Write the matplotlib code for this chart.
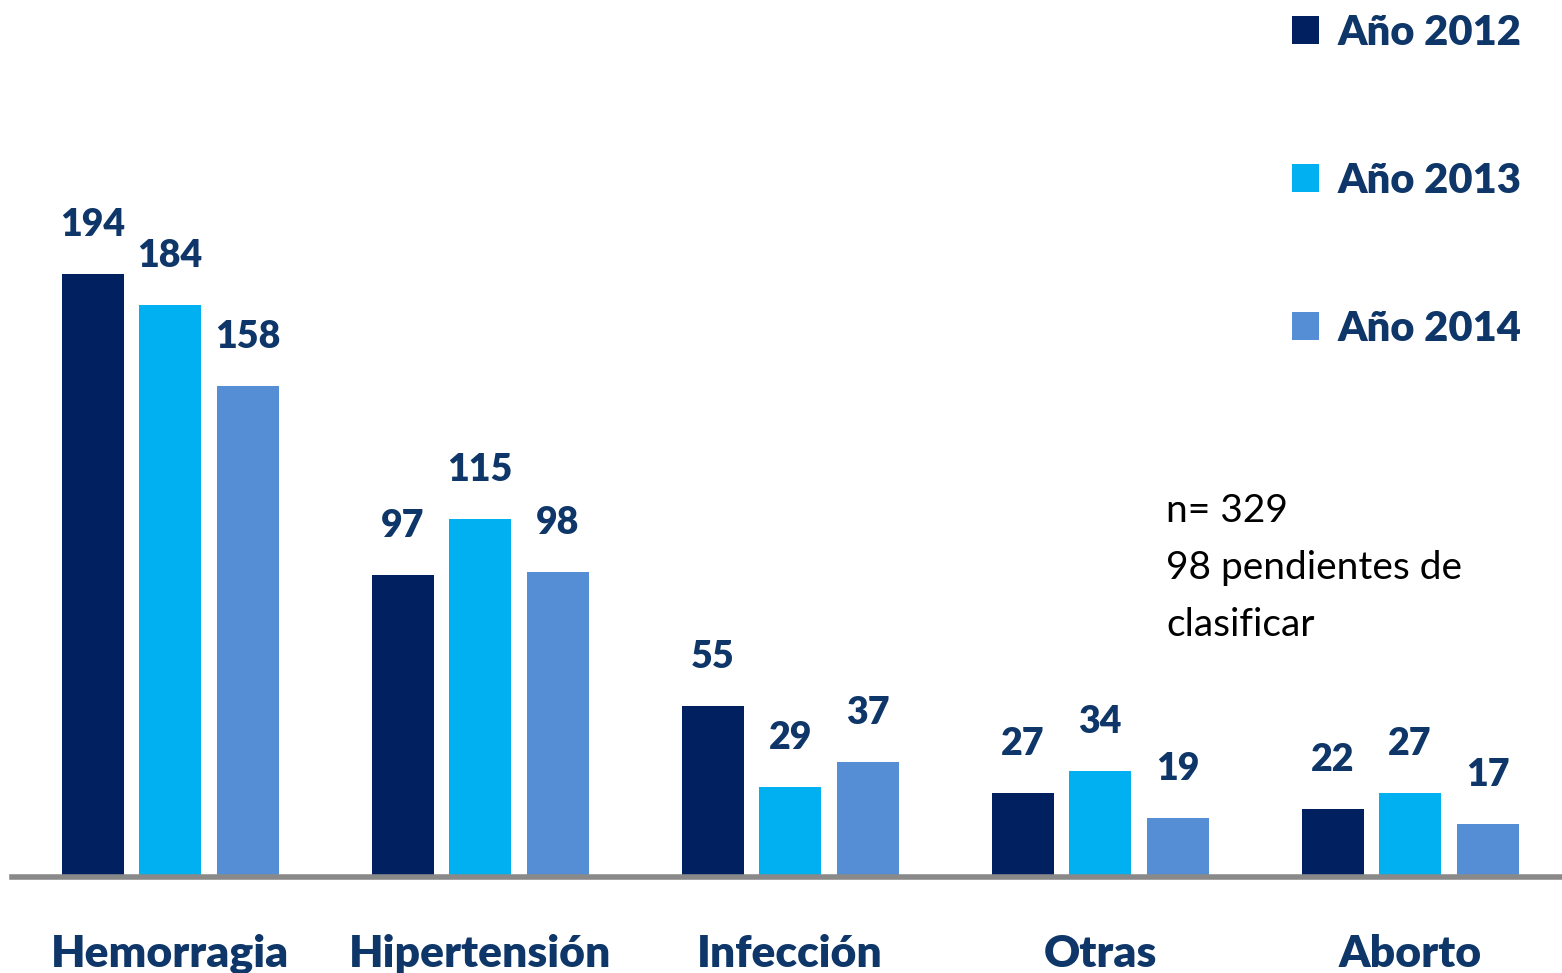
import matplotlib
matplotlib.use("Agg")
import matplotlib.pyplot as plt
import numpy as np
from matplotlib.patches import Patch

plt.rcParams['font.family'] = ['Lato', 'DejaVu Sans']

categories = ["Hemorragia", "Hipertensión", "Infección", "Otras", "Aborto"]
series_names = ["Año 2012", "Año 2013", "Año 2014"]
v2012 = [194, 97, 55, 27, 22]
v2013 = [184, 115, 29, 34, 27]
v2014 = [158, 98, 37, 19, 17]
note_lines = ["n= 329", "98 pendientes de", "clasificar"]

colors = ["#002060", "#00B0F0", "#558ED5"]
text_color = "#0E3668"
WEIGHT = "heavy"

W, H = 1562, 973
fig = plt.figure(figsize=(W / 100, H / 100), dpi=100)
ax = fig.add_axes([12 / W, 96 / H, 1 - 12 / W, 1 - 96 / H])

x = np.arange(len(categories))
offsets = [-0.25, 0.0, 0.25]
width = 0.2
for vals, off, c in zip([v2012, v2013, v2014], offsets, colors):
    bars = ax.bar(x + off, vals, width=width, color=c, zorder=2)
    for b, v in zip(bars, vals):
        ax.annotate(str(v), (b.get_x() + b.get_width() / 2, b.get_height()),
                    xytext=(0, 38), textcoords="offset pixels",
                    ha="center", va="baseline", fontsize=27, fontweight=WEIGHT,
                    color=text_color)

ax.set_xlim(-0.51, 4.49)
ax.set_ylim(0, 282)
for s in ["top", "left", "right"]:
    ax.spines[s].set_visible(False)
ax.spines["bottom"].set_color("#898989")
ax.spines["bottom"].set_linewidth(4)
ax.set_yticks([])
ax.set_xticks(x)
ax.set_xticklabels(categories, fontsize=32, fontweight=WEIGHT, color=text_color)
ax.tick_params(axis="x", length=0, pad=41)

handles = [Patch(facecolor=c, edgecolor="none") for c in colors]
leg = fig.legend(handles, series_names, loc="upper left",
                 bbox_to_anchor=(1292 / W, 1 - 14 / H), frameon=False,
                 prop={"size": 30, "weight": WEIGHT}, labelspacing=2.64,
                 handlelength=0.65, handleheight=0.65, handletextpad=0.45,
                 borderpad=0, borderaxespad=0)
for t in leg.get_texts():
    t.set_color(text_color)

fig.text(1166 / W, 1 - 493 / H, "\n".join(note_lines), fontsize=28,
         color="black", ha="left", va="top", linespacing=1.72)

fig.savefig("out.png", dpi=100)
